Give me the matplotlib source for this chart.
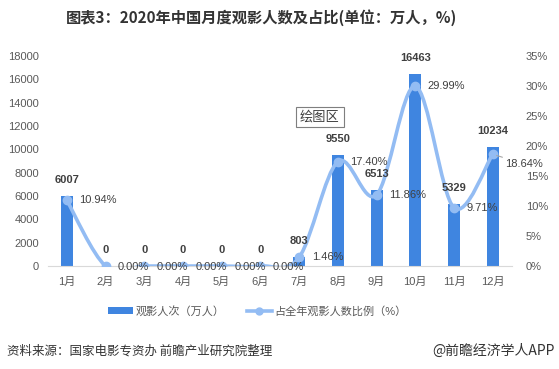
import matplotlib
matplotlib.use("Agg")
import matplotlib.pyplot as plt
from matplotlib.path import Path
from matplotlib.patches import PathPatch
from matplotlib.lines import Line2D
from matplotlib.patches import Patch
import numpy as np

plt.rcParams['font.family'] = ['Liberation Sans', 'Noto Sans CJK SC', 'DejaVu Sans']

months = ['1月', '2月', '3月', '4月', '5月', '6月', '7月', '8月', '9月', '10月', '11月', '12月']
viewers = [6007, 0, 0, 0, 0, 0, 803, 9550, 6513, 16463, 5329, 10234]
share = [10.94, 0.00, 0.00, 0.00, 0.00, 0.00, 1.46, 17.40, 11.86, 29.99, 9.71, 18.64]
left_ticks = [0, 2000, 4000, 6000, 8000, 10000, 12000, 14000, 16000, 18000]
right_ticks = [0, 5, 10, 15, 20, 25, 30, 35]

bar_color = '#3f85e0'
line_color = '#93bcf3'
txt = '#595959'
dark = '#404040'

fig = plt.figure(figsize=(5.59, 3.69), dpi=100)
ax = fig.add_axes([0.085, 0.279, 0.831, 0.569])
ax2 = ax.twinx()

x = np.arange(len(months))
ax.bar(x, viewers, width=0.31, color=bar_color, zorder=2)
ax.set_ylim(0, 18000)
ax.set_xlim(-0.5, len(months) - 0.5)
ax.set_yticks(left_ticks)
ax.set_yticklabels([str(v) for v in left_ticks])
ax.set_xticks(x)
ax.set_xticklabels(months)
for a in (ax, ax2):
    for s in a.spines.values():
        s.set_visible(False)
    a.tick_params(length=0, labelsize=8, colors=txt)
ax.spines['bottom'].set_visible(True)
ax.spines['bottom'].set_color('#d9d9d9')
ax.tick_params(axis='x', pad=8)
ax.tick_params(axis='y', pad=6)

ax2.set_ylim(0, 35)
ax2.set_yticks(right_ticks)
ax2.set_yticklabels([f'{t}%' for t in right_ticks])
ax2.tick_params(axis='y', pad=10)

# smooth line (Catmull-Rom bezier through the data points)
pts = np.column_stack([x, share]).astype(float)
n = len(pts)
verts = [pts[0]]
codes = [Path.MOVETO]
for i in range(n - 1):
    p0 = pts[i - 1] if i > 0 else pts[i]
    p1 = pts[i]
    p2 = pts[i + 1]
    p3 = pts[i + 2] if i + 2 < n else pts[i + 1]
    c1 = p1 + (p2 - p0) / 6.0
    c2 = p2 - (p3 - p1) / 6.0
    verts += [c1, c2, p2]
    codes += [Path.CURVE4] * 3
ax2.add_patch(PathPatch(Path(verts, codes), facecolor='none', edgecolor=line_color,
                        lw=2.6, zorder=3, capstyle='round', joinstyle='round'))
ax2.plot(x, share, linestyle='none', marker='o', ms=6, color=line_color, zorder=4)

# bar value labels drawn on top of the line
for xi, v in zip(x, viewers):
    ax2.annotate(str(v), (xi, v), xycoords=ax.transData, xytext=(0, 8),
                 textcoords='offset points', ha='center', va='bottom', fontsize=8,
                 fontweight='bold', color=dark, annotation_clip=False, zorder=6)

for xi, v in zip(x, share):
    if xi == 11:
        ax2.annotate(f'{v:.2f}%', (xi, v), xytext=(9, -7), textcoords='offset points',
                     ha='left', va='center', fontsize=8, color=dark,
                     arrowprops=dict(arrowstyle='-', color='#a6a6a6', lw=0.8,
                                     shrinkA=0, shrinkB=3),
                     annotation_clip=False, zorder=6)
    else:
        dy = -1 if v == 0 else 0
        ax2.annotate(f'{v:.2f}%', (xi, v), xytext=(9, dy), textcoords='offset points',
                     ha='left', va='center', fontsize=8, color=dark,
                     annotation_clip=False, zorder=6)

# "绘图区" tooltip box
ax2.text(0.586, 0.71, '绘图区', transform=ax.transAxes,
         ha='center', va='center', fontsize=9.5, color=dark,
         bbox=dict(boxstyle='square,pad=0.3', facecolor='white', edgecolor='#7f7f7f', lw=0.8),
         zorder=7)

fig.text(0.467, 0.953, '图表3：2020年中国月度观影人数及占比(单位：万人，%)',
         ha='center', va='center', fontsize=11, fontweight='bold', color='#333333',
         family=['Noto Sans CJK SC', 'DejaVu Sans'])

handles = [Patch(facecolor=bar_color, edgecolor='none'),
           Line2D([0], [0], color=line_color, lw=2.6, marker='o', ms=5)]
fig.legend(handles, ['观影人次（万人）', '占全年观影人数比例（%）'], loc='center',
           bbox_to_anchor=(0.46, 0.157), ncol=2, frameon=False, fontsize=8,
           handlelength=2.3, handleheight=0.5, columnspacing=2.0, handletextpad=0.2,
           labelcolor=txt)

fig.text(0.012, 0.049, '资料来源：国家电影专资办 前瞻产业研究院整理', ha='left', va='center',
         fontsize=9, color='#333333', family=['Noto Sans CJK SC', 'DejaVu Sans'])
fig.text(0.993, 0.049, '@前瞻经济学人APP', ha='right', va='center',
         fontsize=10, color='#333333', family=['Noto Sans CJK SC', 'DejaVu Sans'])

fig.savefig('out.png', dpi=100)
